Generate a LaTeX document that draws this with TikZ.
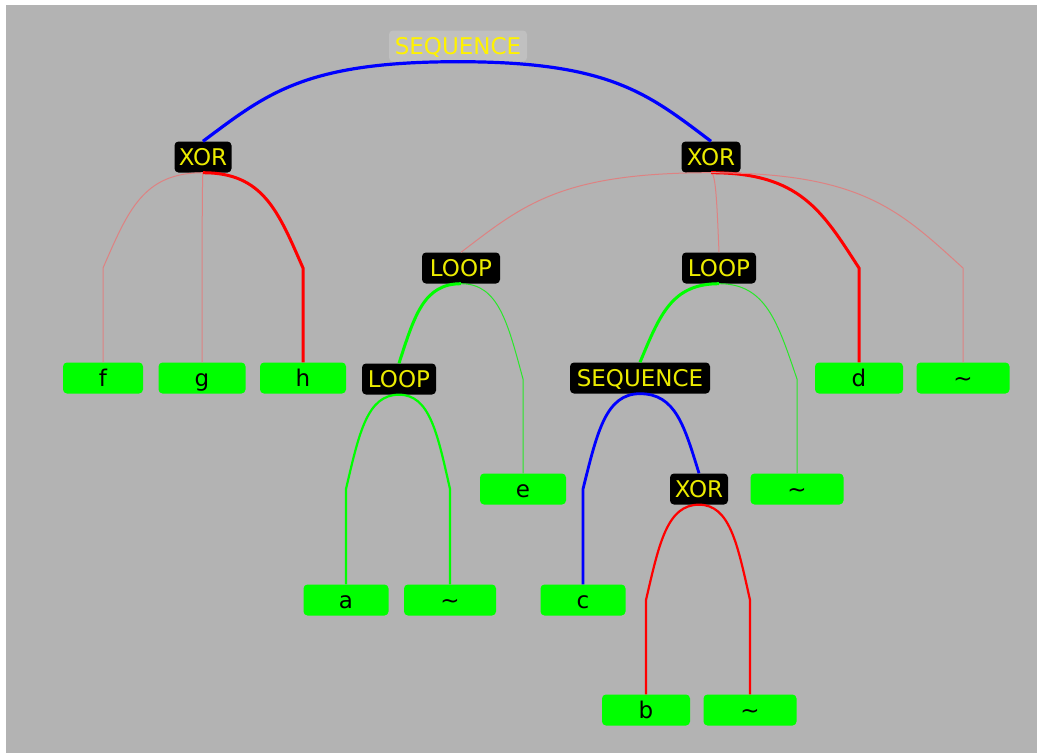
\documentclass[tikz,border=0pt]{standalone}
\usepackage{fontspec}
\setmainfont{DejaVu Sans}
\usetikzlibrary{calc}

\definecolor{bggray}{RGB}{179,179,179}
\definecolor{topfill}{RGB}{192,192,192}
\definecolor{opyellow}{RGB}{235,235,0}
\definecolor{leafgreen}{RGB}{0,255,0}
\definecolor{seqblue}{RGB}{0,0,255}
\definecolor{xorred}{RGB}{255,0,0}
\definecolor{faintred}{RGB}{222,130,130}
\definecolor{thingreen}{RGB}{40,232,40}

\tikzset{
  labelfont/.style={font=\fontsize{23}{23}\selectfont},
  opbox/.style={labelfont, fill=black, rounded corners=4pt, text=opyellow,
    inner xsep=4pt, inner ysep=0pt, minimum height=31pt,
    text height=17pt, text depth=0pt},
  rootbox/.style={opbox, fill=topfill, text=yellow},
  leaf/.style={labelfont, fill=leafgreen, rounded corners=4pt, text=black,
    inner sep=0pt, minimum height=31pt, text height=17pt, text depth=0pt},
  % curved branch: leaves the parent flat, bends down towards the child
  branch/.style={to path={let \p1=(\tikztostart), \p2=(\tikztotarget) in
    .. controls ({\x1+0.6*(\x2-\x1)},\y1) and ({\x2-0.25*(\x2-\x1)},{\y1+0.4*(\y2-\y1)}) .. (\tikztotarget)}},
  seqedge/.style={draw=seqblue, line width=3.2pt},
  seqedgeb/.style={draw=seqblue, line width=2.8pt},
  xoredge/.style={draw=xorred, line width=3pt},
  xoredgeb/.style={draw=xorred, line width=2.2pt},
  xorfaint/.style={draw=faintred, line width=1pt},
  loopedge/.style={draw=leafgreen, line width=3pt},
  loopedgeb/.style={draw=leafgreen, line width=2.2pt},
  loopthin/.style={draw=thingreen, line width=1pt},
}

\begin{document}
\begin{tikzpicture}[x=1pt,y=-1pt]
  \useasboundingbox (0,0) rectangle (1041,753);
  \fill[white] (0,0) rectangle (1041,753);
  \fill[bggray] (6,5) rectangle (1037,753);

  % operator nodes
  \node[rootbox, minimum width=138pt] (seq0) at (458,46) {SEQUENCE};
  \node[opbox, minimum width=57pt]  (xl)   at (203,157) {XOR};
  \node[opbox, minimum width=59pt]  (xr)   at (711,157) {XOR};
  \node[opbox, minimum width=78pt]  (lp1)  at (461,268) {LOOP};
  \node[opbox, minimum width=74pt]  (lp2)  at (719,268) {LOOP};
  \node[opbox, minimum width=74pt]  (lp3)  at (399,379) {LOOP};
  \node[opbox, minimum width=140pt] (seq2) at (640,378) {SEQUENCE};
  \node[opbox, minimum width=58pt]  (xo3)  at (699,489) {XOR};

  % leaves
  \node[leaf, minimum width=80pt] (f)  at (103,378) {f};
  \node[leaf, minimum width=87pt] (g)  at (202,378) {g};
  \node[leaf, minimum width=86pt] (h)  at (303,378) {h};
  \node[leaf, minimum width=88pt] (d)  at (859,378) {d};
  \node[leaf, minimum width=93pt] (t1) at (963,378) {\textasciitilde};
  \node[leaf, minimum width=86pt] (e)  at (523,489) {e};
  \node[leaf, minimum width=93pt] (t2) at (797,489) {\textasciitilde};
  \node[leaf, minimum width=85pt] (a)  at (346,600) {a};
  \node[leaf, minimum width=92pt] (t3) at (450,600) {\textasciitilde};
  \node[leaf, minimum width=85pt] (c)  at (583,600) {c};
  \node[leaf, minimum width=88pt] (b)  at (646,710) {b};
  \node[leaf, minimum width=93pt] (t4) at (750,710) {\textasciitilde};

  % bends where a branch turns straight down to its leaf
  \coordinate (kf)  at (103,268);
  \coordinate (kg)  at (202,268);
  \coordinate (kh)  at (303,268);
  \coordinate (kd)  at (859,268);
  \coordinate (kt1) at (963,268);
  \coordinate (ke)  at (523,379);
  \coordinate (kt2) at (797,379);
  \coordinate (ka)  at (346,489);
  \coordinate (kt3) at (450,489);
  \coordinate (kc)  at (583,489);
  \coordinate (kb)  at (646,600);
  \coordinate (kt4) at (750,600);

  % branches
  \draw[seqedge] (seq0.south) to[branch] (xl.north);
  \draw[seqedge] (seq0.south) to[branch] (xr.north);

  \draw[xorfaint] (xl.south) to[branch] (kf) -- (f.north);
  \draw[xorfaint] (xl.south) to[branch] (kg) -- (g.north);
  \draw[xoredge]  (xl.south) to[branch] (kh) -- (h.north);

  \draw[xorfaint] (xr.south) to[branch] (lp1.north);
  \draw[xorfaint] (xr.south) to[branch] (lp2.north);
  \draw[xoredge]  (xr.south) to[branch] (kd) -- (d.north);
  \draw[xorfaint] (xr.south) to[branch] (kt1) -- (t1.north);

  \draw[loopedge] (lp1.south) to[branch] (lp3.north);
  \draw[loopthin] (lp1.south) to[branch] (ke) -- (e.north);

  \draw[loopedge] (lp2.south) to[branch] (seq2.north);
  \draw[loopthin] (lp2.south) to[branch] (kt2) -- (t2.north);

  \draw[loopedgeb] (lp3.south) to[branch] (ka) -- (a.north);
  \draw[loopedgeb] (lp3.south) to[branch] (kt3) -- (t3.north);

  \draw[seqedgeb] (seq2.south) to[branch] (kc) -- (c.north);
  \draw[seqedgeb] (seq2.south) to[branch] (xo3.north);

  \draw[xoredgeb] (xo3.south) to[branch] (kb) -- (b.north);
  \draw[xoredgeb] (xo3.south) to[branch] (kt4) -- (t4.north);
\end{tikzpicture}
\end{document}
